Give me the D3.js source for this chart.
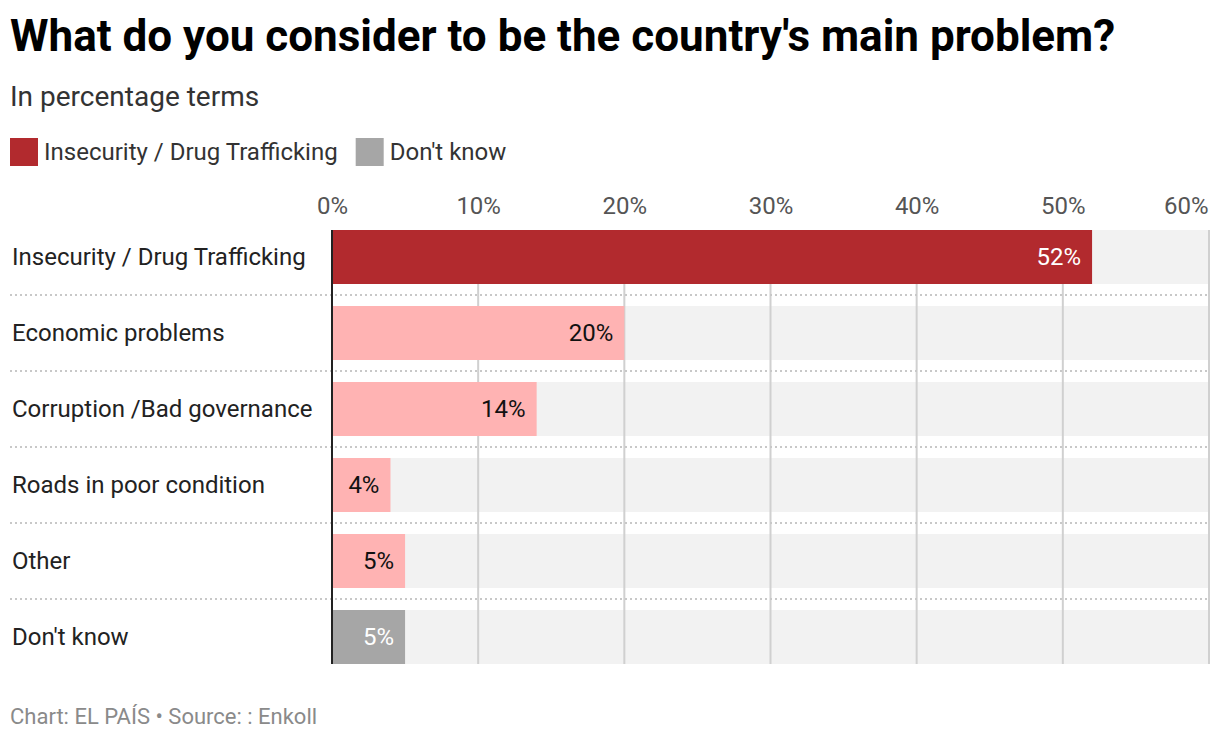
<!DOCTYPE html>
<html>
<head>
<meta charset="utf-8">
<script src="https://cdn.jsdelivr.net/npm/d3@7"></script>
<style>
  body { margin: 0; background: #fff; font-family: Roboto, "Noto Sans", sans-serif; }
</style>
</head>
<body>
<div id="chart"></div>
<script>
// Survey: main problem of the country (percent)
const categories = [
  "Insecurity / Drug Trafficking",
  "Economic problems",
  "Corruption /Bad governance",
  "Roads in poor condition",
  "Other",
  "Don't know"
];
const values = [52, 20, 14, 4, 5, 5];
const groups = ["main", "other", "other", "other", "other", "dk"];
const xTicks = [0, 10, 20, 30, 40, 50, 60];
const legendItems = [
  { key: "main", label: "Insecurity / Drug Trafficking" },
  { key: "dk", label: "Don't know" }
];

const width = 1220;
const height = 740;
const margin = { top: 230, left: 332, right: 11 };

const fill = { main: "#b22a2e", other: "#ffb3b3", dk: "#a6a6a6" };
const labelFill = { main: "#fff", other: "#111", dk: "#fff" };

const svg = d3.select("#chart")
  .append("svg")
  .attr("width", width)
  .attr("height", height);

// Title block
svg.append("text")
  .attr("x", 10).attr("y", 51)
  .style("font-size", "44px")
  .style("font-weight", "bold")
  .style("fill", "#000")
  .text("What do you consider to be the country's main problem?");

svg.append("text")
  .attr("x", 10).attr("y", 106)
  .style("font-size", "28px")
  .style("fill", "#333")
  .text("In percentage terms");

// Legend
let lx = 10;
legendItems.forEach(item => {
  svg.append("rect")
    .attr("x", lx).attr("y", 138)
    .attr("width", 28).attr("height", 28)
    .attr("fill", fill[item.key]);
  const t = svg.append("text")
    .attr("x", lx + 34).attr("y", 160)
    .style("font-size", "24px")
    .style("fill", "#333")
    .text(item.label);
  lx += 34 + t.node().getComputedTextLength() + 18;
});

// Scales
const x = d3.scaleLinear()
  .domain([0, 60])
  .range([margin.left, width - margin.right]);

const rowStep = 76;
const y = d3.scaleBand()
  .domain(categories)
  .range([margin.top - 11, margin.top - 11 + rowStep * categories.length])
  .paddingInner(22 / 76)
  .paddingOuter(11 / 76);

const bandH = y.bandwidth();

// Row backgrounds
svg.append("g")
  .selectAll("rect")
  .data(categories)
  .join("rect")
  .attr("x", x(0))
  .attr("y", d => y(d))
  .attr("width", x(60) - x(0))
  .attr("height", bandH)
  .attr("fill", "#f2f2f2");

// Vertical grid lines
const plotTop = y(categories[0]);
const plotBottom = y(categories[categories.length - 1]) + bandH;
svg.append("g")
  .selectAll("line")
  .data(xTicks.slice(1))
  .join("line")
  .attr("x1", d => x(d)).attr("x2", d => x(d))
  .attr("y1", plotTop).attr("y2", plotBottom)
  .attr("stroke", "#d0d0d0")
  .attr("stroke-width", 2);

// Dotted row separators
svg.append("g")
  .selectAll("line")
  .data(categories.slice(1))
  .join("line")
  .attr("x1", 10).attr("x2", x(60))
  .attr("y1", d => y(d) - 11).attr("y2", d => y(d) - 11)
  .attr("stroke", "#c8c8c8")
  .attr("stroke-width", 2)
  .attr("stroke-dasharray", "2,3");

// Axis tick labels on top
const axis = svg.append("g")
  .attr("transform", `translate(0, 190)`)
  .call(d3.axisTop(x).tickValues(xTicks).tickFormat(d => d + "%").tickSize(0).tickPadding(0));
axis.select(".domain").remove();
axis.selectAll("text")
  .attr("y", 24)
  .style("font-family", "Roboto, sans-serif")
  .style("font-size", "24px")
  .style("fill", "#555");
axis.selectAll(".tick text")
  .attr("text-anchor", (d, i) => i === xTicks.length - 1 ? "end" : "middle")
  .attr("dx", (d, i) => i === xTicks.length - 1 ? -1 : 0);

// Bars
svg.append("g")
  .selectAll("rect")
  .data(categories)
  .join("rect")
  .attr("x", x(0))
  .attr("y", d => y(d))
  .attr("width", (d, i) => x(values[i]) - x(0))
  .attr("height", bandH)
  .attr("fill", (d, i) => fill[groups[i]]);

// Value labels
svg.append("g")
  .selectAll("text")
  .data(categories)
  .join("text")
  .attr("x", (d, i) => x(values[i]) - 11)
  .attr("y", d => y(d) + bandH / 2 + 8)
  .attr("text-anchor", "end")
  .style("font-size", "24px")
  .style("fill", (d, i) => labelFill[groups[i]])
  .text((d, i) => values[i] + "%");

// Category labels
svg.append("g")
  .selectAll("text")
  .data(categories)
  .join("text")
  .attr("x", 12)
  .attr("y", d => y(d) + bandH / 2 + 8)
  .style("font-size", "24px")
  .style("fill", "#222")
  .text(d => d);

// Zero axis line
svg.append("line")
  .attr("x1", x(0)).attr("x2", x(0))
  .attr("y1", plotTop).attr("y2", plotBottom)
  .attr("stroke", "#222")
  .attr("stroke-width", 2);

// Footer
svg.append("text")
  .attr("x", 10).attr("y", 724)
  .style("font-size", "22px")
  .style("fill", "#8a8a8a")
  .text("Chart: EL PAÍS • Source: : Enkoll");
</script>
</body>
</html>
